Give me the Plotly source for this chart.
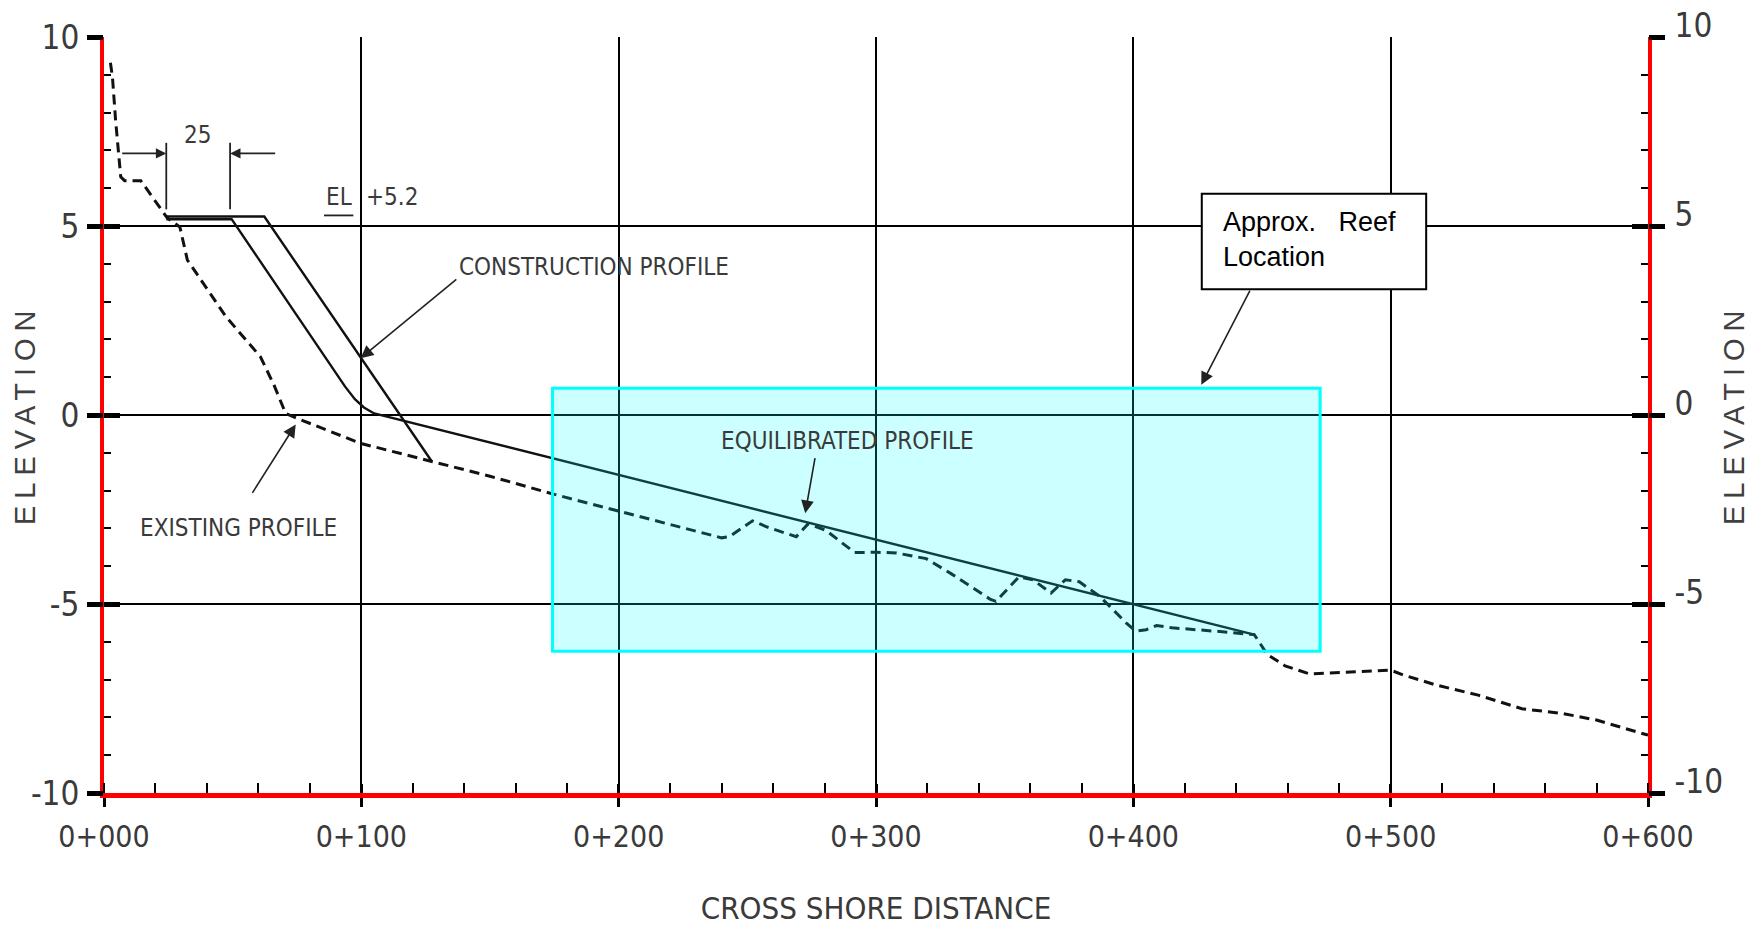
import plotly.graph_objects as go

# ---------------- data ----------------
existing_x = [2.5, 3.3, 4.5, 6.5, 8.0, 14.3, 24.5, 29.5, 32.4, 47.4, 60.8, 66.0, 70.6, 75.8,
              99.7, 127.4, 150.0, 175.0, 200.0, 225.0, 240.0, 243.0, 252.0, 258.0, 269.0,
              273.6, 280.5, 291.7, 300.0, 308.0, 319.5, 329.0, 344.5, 346.6, 355.6, 361.0,
              368.0, 373.6, 379.0, 387.0, 392.0, 397.2, 401.0, 405.0, 409.0, 415.0, 432.0,
              447.0, 452.0, 459.0, 468.6, 485.0, 500.0, 505.0, 518.0, 534.0, 551.0, 567.0,
              580.0, 600.0]
existing_y = [9.32, 8.93, 7.8, 6.3, 6.2, 6.2, 5.22, 4.97, 4.1, 2.6, 1.54, 0.8, 0.04, -0.11,
              -0.75, -1.23, -1.62, -2.1, -2.55, -3.0, -3.25, -3.22, -2.8, -2.97, -3.22,
              -2.88, -3.05, -3.64, -3.63, -3.65, -3.8, -4.19, -4.88, -4.93, -4.28, -4.36,
              -4.71, -4.36, -4.41, -4.8, -5.15, -5.5, -5.72, -5.68, -5.57, -5.63, -5.72,
              -5.81, -6.33, -6.64, -6.85, -6.79, -6.75, -6.88, -7.15, -7.41, -7.77, -7.9,
              -8.07, -8.47]

construction_x = [24.2, 62.3, 127.4]
construction_y = [5.25, 5.25, -1.23]

equilibrated_x = [24.2, 49.6, 93.7, 97.5, 101.0, 105.0, 447.0]
equilibrated_y = [5.18, 5.18, 0.75, 0.42, 0.2, 0.04, -5.81]

x_tickvals = [0, 100, 200, 300, 400, 500, 600]
x_ticktext = ["0+000", "0+100", "0+200", "0+300", "0+400", "0+500", "0+600"]
y_tickvals = [-10, -5, 0, 5, 10]
y_ticktext = ["-10", "-5", "0", "5", "10"]

reef_x = [174.3, 472.6]
reef_y = [-6.25, 0.71]

# ---------------- styles / positions ----------------
CAD = "Liberation Sans Narrow, DejaVu Sans Condensed, Arial Narrow, Liberation Sans, sans-serif"
TXT = "#3a3a3a"
X_RANGE = [0, 600]
Y_RANGE = [-10, 10]

fig = go.Figure()
line_style = dict(color="#111111", width=2.4)
fig.add_trace(go.Scatter(x=existing_x, y=existing_y, mode="lines", name="Existing profile",
                         line=dict(color="#111111", width=3, dash="10px,6px"), hoverinfo="skip"))
fig.add_trace(go.Scatter(x=construction_x, y=construction_y, mode="lines", name="Construction profile",
                         line=line_style, hoverinfo="skip"))
fig.add_trace(go.Scatter(x=equilibrated_x, y=equilibrated_y, mode="lines", name="Equilibrated profile",
                         line=line_style, hoverinfo="skip"))

x_tick_font = dict(family=CAD, size=30, color=TXT)
y_tick_font = dict(family=CAD, size=33, color=TXT)
minor_y = dict(ticks="inside", dtick=1, ticklen=7, tickwidth=2, tickcolor="black", showgrid=False)

fig.update_layout(
    width=1760, height=931,
    margin=dict(l=104, r=112, t=37, b=138, autoexpand=False),
    paper_bgcolor="white", plot_bgcolor="white",
    showlegend=False,
    xaxis=dict(
        range=X_RANGE, tickvals=x_tickvals, ticktext=x_ticktext, automargin=False,
        ticks="outside", ticklen=9, tickwidth=3, tickcolor="black",
        showline=True, linecolor="red", linewidth=5,
        showgrid=True, gridcolor="black", gridwidth=1.5, zeroline=False,
        minor=dict(ticks="inside", dtick=20, ticklen=10, tickwidth=2, tickcolor="black", showgrid=False),
        tickfont=x_tick_font, ticklabelstandoff=4,
        title=dict(text="CROSS SHORE DISTANCE", font=dict(family=CAD, size=31, color=TXT), standoff=46),
        fixedrange=True,
    ),
    xaxis2=dict(
        range=X_RANGE, overlaying="x", anchor="y", tickvals=x_tickvals, automargin=False,
        ticks="inside", ticklen=9, tickwidth=3, tickcolor="black",
        showticklabels=False, showline=False, showgrid=False, zeroline=False,
    ),
    # left elevation axis: inward half of the major ticks + labels
    yaxis=dict(
        range=Y_RANGE, tickvals=y_tickvals, ticktext=y_ticktext, automargin=False,
        ticks="inside", ticklen=16, tickwidth=5, tickcolor="black",
        showline=True, linecolor="red", linewidth=4,
        showgrid=True, gridcolor="black", gridwidth=2, zeroline=False,
        minor=minor_y,
        tickfont=y_tick_font, ticklabelstandoff=14,
    ),
    # right elevation axis
    yaxis2=dict(
        range=Y_RANGE, overlaying="y", side="right", anchor="x", tickvals=y_tickvals, ticktext=y_ticktext,
        automargin=False,
        ticks="inside", ticklen=16, tickwidth=5, tickcolor="black",
        showline=True, linecolor="red", linewidth=4,
        showgrid=False, zeroline=False,
        minor=minor_y,
        tickfont=y_tick_font, ticklabelstandoff=16, ticklabelshift=-12,
    ),
    # outward halves of the major ticks
    yaxis3=dict(
        range=Y_RANGE, overlaying="y", side="left", anchor="x", tickvals=y_tickvals, automargin=False,
        ticks="outside", ticklen=16, tickwidth=5, tickcolor="black",
        showticklabels=False, showline=False, showgrid=False, zeroline=False,
    ),
    yaxis4=dict(
        range=Y_RANGE, overlaying="y", side="right", anchor="x", tickvals=y_tickvals, automargin=False,
        ticks="outside", ticklen=16, tickwidth=5, tickcolor="black",
        showticklabels=False, showline=False, showgrid=False, zeroline=False,
    ),
)

# invisible traces so the overlay axes are registered
for ya in ["y2", "y3", "y4"]:
    fig.add_trace(go.Scatter(x=[], y=[], yaxis=ya, xaxis="x", showlegend=False, hoverinfo="skip"))
fig.add_trace(go.Scatter(x=[], y=[], xaxis="x2", yaxis="y", showlegend=False, hoverinfo="skip"))

# y axis titles (both sides)
TITLE_FONT = dict(family="Liberation Sans, Arial, sans-serif", size=29, color="#404040")
for px, shift in [(0, -79), (1, 86)]:
    fig.add_annotation(x=px, y=0.5, xref="paper", yref="paper", xshift=shift,
                       text='<span style="letter-spacing:7px">ELEVATION</span>',
                       textangle=-90, showarrow=False, xanchor="center", yanchor="middle",
                       font=TITLE_FONT)

# reef rectangle (semi transparent, above the lines)
fig.add_shape(type="rect", xref="x", yref="y", x0=reef_x[0], x1=reef_x[1], y0=reef_y[0], y1=reef_y[1],
              fillcolor="rgba(0,255,255,0.2)", line=dict(color="#00ffff", width=3), layer="above")

# "Approx. Reef Location" box
BOX = dict(x0=426.6, x1=513.8, y0=3.33, y1=5.85)
fig.add_shape(type="rect", xref="x", yref="y", **BOX, fillcolor="white",
              line=dict(color="black", width=2), layer="above")
fig.add_annotation(x=434.2, y=5.55, xref="x", yref="y", xanchor="left", yanchor="top", align="left",
                   text="Approx.\u00a0\u00a0\u00a0Reef<br>Location", showarrow=False,
                   font=dict(family="Liberation Sans, Arial, sans-serif", size=27, color="black"))

# dimension "25" extension lines and EL underline
DIM_LINES = [(24.2, 5.44, 24.2, 7.2), (49.0, 5.44, 49.0, 7.2), (85.5, 5.28, 96.9, 5.28)]
for x0, y0, x1, y1 in DIM_LINES:
    fig.add_shape(type="line", xref="x", yref="y", x0=x0, y0=y0, x1=x1, y1=y1,
                  line=dict(color="#222222", width=1.8), layer="above")

# leader arrows: (tip_x, tip_y, tail_x, tail_y, head, size)
ARROWS = [
    (24.2, 6.92, 6.5, 6.92, 2, 1.3),
    (49.0, 6.92, 67.1, 6.92, 2, 1.3),
    (99.7, 1.5, 137.5, 3.62, 2, 1.6),
    (74.5, -0.25, 57.3, -2.1, 2, 1.6),
    (272.5, -2.6, 276.4, -1.1, 2, 1.6),
    (426.4, 0.8, 445.6, 3.33, 2, 1.6),
]
for tx, ty, sx, sy, head, size in ARROWS:
    fig.add_annotation(x=tx, y=ty, ax=sx, ay=sy, xref="x", yref="y", axref="x", ayref="y",
                       text="", showarrow=True, arrowhead=head, arrowsize=size, arrowwidth=1.6,
                       arrowcolor="#222222", standoff=0, startstandoff=0)

# CAD labels: (text, x, y, xanchor)
LABELS = [
    ("25", 36.3, 7.4, "center"),
    ("EL", 91.2, 5.78, "center"),
    ("+5.2", 101.0, 5.78, "left"),
    ("CONSTRUCTION PROFILE", 137.3, 3.92, "left"),
    ("EXISTING PROFILE", 13.1, -3.0, "left"),
    ("EQUILIBRATED PROFILE", 238.8, -0.70, "left"),
]
for text, x, y, anchor in LABELS:
    fig.add_annotation(x=x, y=y, xref="x", yref="y", text=text, showarrow=False,
                       xanchor=anchor, yanchor="middle",
                       font=dict(family=CAD, size=24, color=TXT))

fig.write_html("out.html")
